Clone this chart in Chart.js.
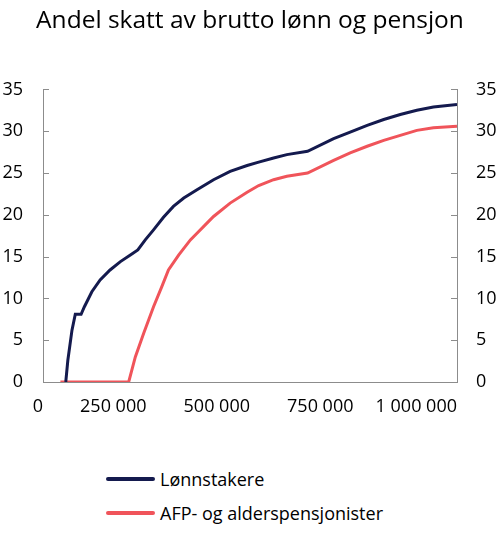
<!DOCTYPE html>
<html>
<head>
<meta charset="utf-8">
<script src="https://cdn.jsdelivr.net/npm/chart.js@4"></script>
<style>
body{margin:0;background:#fff;font-family:"Open Sans",sans-serif;}
#wrap{position:relative;width:500px;height:533px;}
#legend{position:absolute;left:106px;top:462px;font-size:18px;color:#000;}
.item{display:flex;align-items:center;height:34px;}
.swatch{width:49px;height:4px;margin-right:5px;border-radius:2px;}
</style>
</head>
<body>
<div id="wrap">
<canvas id="chart" width="500" height="440"></canvas>
<div id="legend"></div>
</div>
<script>

const title="Andel skatt av brutto lønn og pensjon";
const seriesNames=["Lønnstakere","AFP- og alderspensjonister"];
const colors=["#141a4e","#f0545a"];

// brutto inntekt, kr
const incomes=[42000,55000,60000,70000,78000,92000,100000,118000,138000,162000,187000,207000,211000,223000,229000,243000,247000,267000,287000,291000,303000,315000,328000,340000,356000,372000,396000,412000,452000,493000,521000,557000,589000,639000,702000,742000,783000,823000,863000,903000,943000,1000000];

// andel skatt, prosent (null = ikke avlest)
const wageShare=[null,0,2.6,6.2,8.1,8.1,9.0,10.8,12.2,13.4,14.4,null,15.2,null,15.8,null,17.0,18.2,null,19.7,null,21.0,null,22.0,null,23.0,null,24.2,25.2,25.9,26.3,26.8,27.2,27.6,29.1,29.9,30.7,31.4,32.0,32.5,32.9,33.2];
const pensionShare=[0,null,null,null,null,null,null,null,null,null,null,0,null,3.0,null,5.8,null,9.0,11.4,null,13.4,null,15.2,null,17.0,17.8,19.0,19.8,21.4,22.7,23.5,24.2,24.6,25.0,26.5,27.4,28.2,28.9,29.5,30.1,30.4,30.6];

const xTicks=[0,250000,500000,750000,1000000];
const yMax=35;

function points(values){
const out=[];
incomes.forEach((x,i)=>{
if(values[i]!==null){
out.push({x:x,y:values[i]});
}
});
return out;
}

function kr(v){
return String(v).replace(/\B(?=(\d{3})+(?!\d))/g," ");
}

// short tick marks drawn on the inside of both y axes
const innerTicks={
id:"innerTicks",
afterDraw(chart){
const c=chart.ctx;
c.save();
c.strokeStyle="#8c8c8c";
c.lineWidth=1;
["y","y1"].forEach(id=>{
const s=chart.scales[id];
const dir=id==="y"?1:-1;
const x0=id==="y"?s.right:s.left;
s.ticks.forEach(t=>{
const y=Math.round(s.getPixelForValue(t.value))+0.5;
c.beginPath();
c.moveTo(x0,y);
c.lineTo(x0+dir*6,y);
c.stroke();
});
});
c.restore();
}
};

const tickFont={family:"Open Sans",size:18};

const yAxis=(pos,pad)=>({
position:pos,
min:0,
max:yMax,
afterFit(s){s.width=41;},
ticks:{stepSize:5,font:tickFont,color:"#000",padding:pad},
grid:{drawOnChartArea:false,drawTicks:false},
border:{color:"#8c8c8c",width:1}
});

const chart=new Chart(document.getElementById("chart"),{
type:"line",
data:{
datasets:[
{label:seriesNames[0],data:points(wageShare),borderColor:colors[0],backgroundColor:colors[0]},
{label:seriesNames[1],data:points(pensionShare),borderColor:colors[1],backgroundColor:colors[1]}
]
},
options:{
responsive:false,
animation:false,
elements:{
line:{borderWidth:3,tension:0},
point:{radius:0}
},
layout:{padding:{left:2,right:2,top:0,bottom:18}},
plugins:{
legend:{display:false},
tooltip:{enabled:false},
title:{
display:true,
text:title,
color:"#000",
font:{family:"Open Sans",size:24.5,weight:"normal"},
padding:{top:6,bottom:54}
}
},
scales:{
x:{
type:"linear",
min:0,
max:1000000,
afterBuildTicks(s){s.ticks=xTicks.map(v=>({value:v}));},
afterFit(s){s.height=40;},
ticks:{font:tickFont,color:"#000",align:"end",padding:14,callback:v=>kr(v)},
grid:{drawOnChartArea:false,drawTicks:false},
border:{color:"#8c8c8c",width:1}
},
y:yAxis("left",20),
y1:yAxis("right",19)
}
},
plugins:[innerTicks]
});

const legend=document.getElementById("legend");
chart.data.datasets.forEach(d=>{
const row=document.createElement("div");
row.className="item";
const sw=document.createElement("span");
sw.className="swatch";
sw.style.background=d.borderColor;
const txt=document.createElement("span");
txt.textContent=d.label;
row.appendChild(sw);
row.appendChild(txt);
legend.appendChild(row);
});

</script>
</body>
</html>
